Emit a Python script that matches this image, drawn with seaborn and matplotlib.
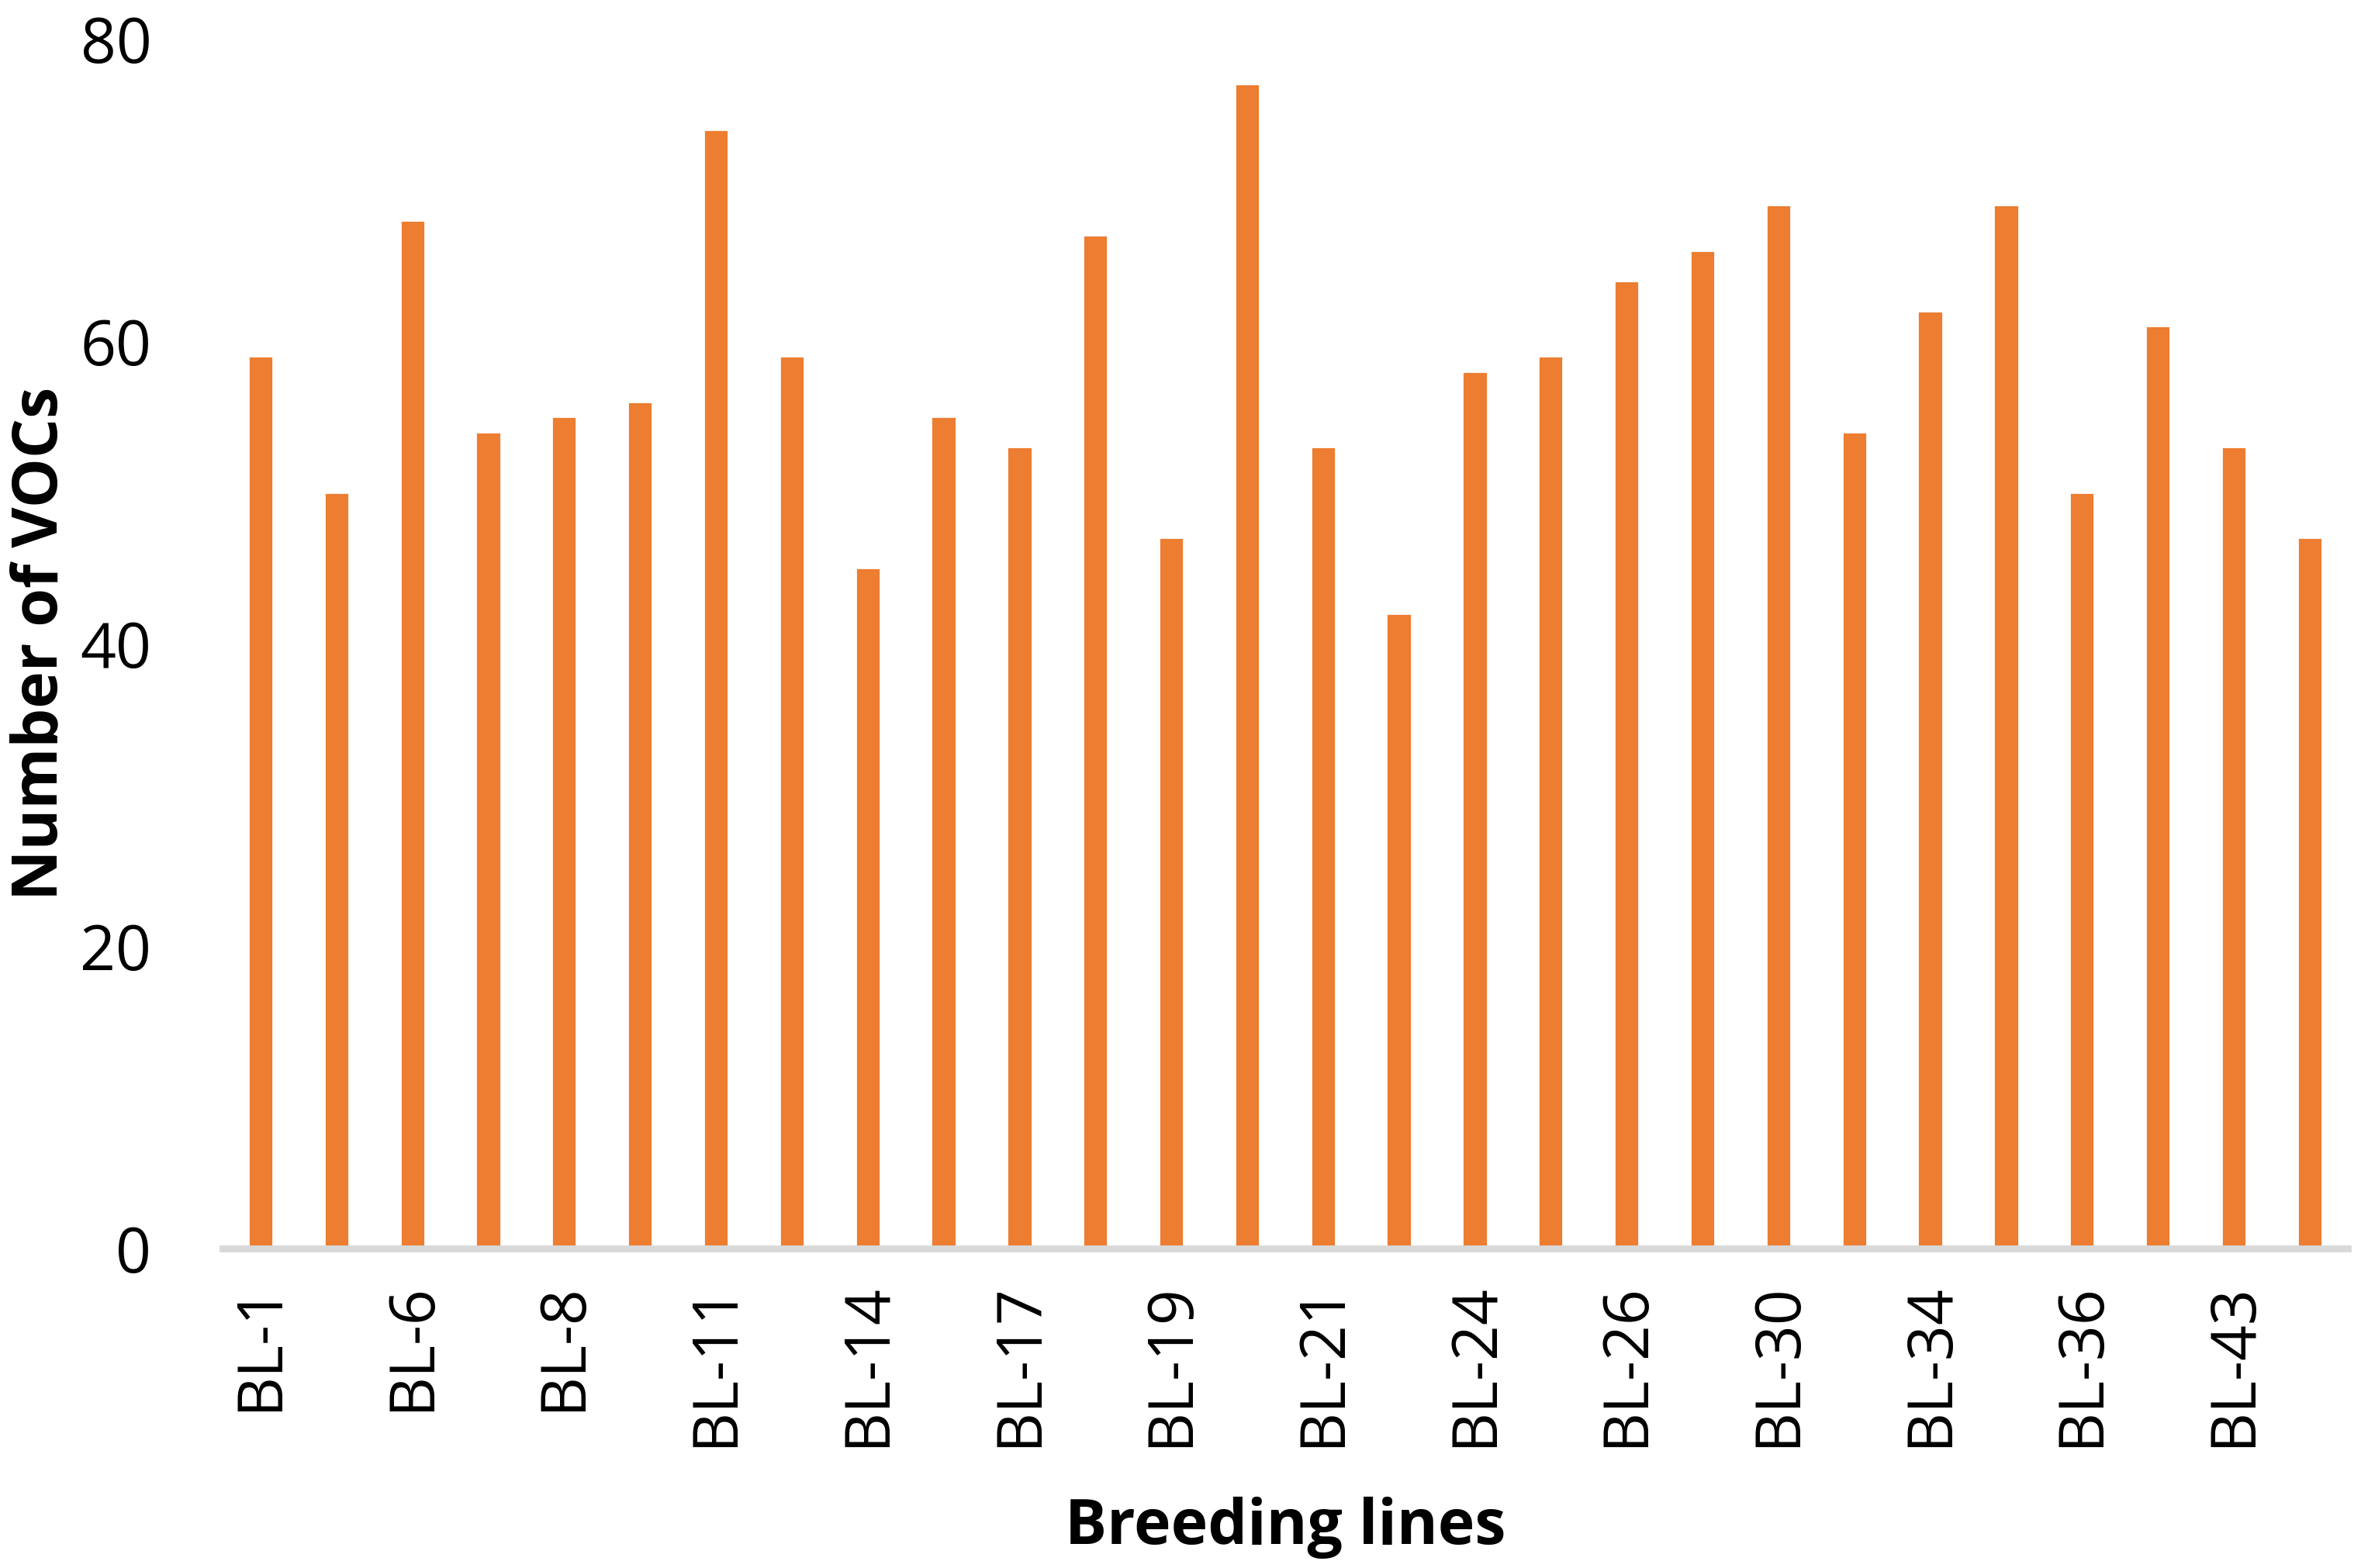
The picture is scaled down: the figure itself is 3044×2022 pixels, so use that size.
import pandas as pd
import matplotlib.pyplot as plt
import seaborn as sns

# ====== Data ======
# only every other breeding line label is printed on the axis
lines = ["BL-1", "BL-5", "BL-6", "BL-7", "BL-8", "BL-10", "BL-11", "BL-13",
         "BL-14", "BL-16", "BL-17", "BL-18", "BL-19", "BL-20", "BL-21", "BL-23",
         "BL-24", "BL-25", "BL-26", "BL-28", "BL-30", "BL-33", "BL-34", "BL-35",
         "BL-36", "BL-40", "BL-43", "BL-45"]
vocs = [59, 50, 68, 54, 55, 56, 74, 59, 45, 55, 53, 67, 47, 77, 53, 42,
        58, 59, 64, 66, 69, 54, 62, 69, 50, 61, 53, 47]
y_ticks = [0, 20, 40, 60, 80]

df = pd.DataFrame({"line": lines, "vocs": vocs})

# ====== Style ======
sns.set_style("white")
plt.rcParams["font.family"] = ["Open Sans", "DejaVu Sans"]
plt.rcParams["text.color"] = "black"
plt.rcParams["axes.labelcolor"] = "black"
plt.rcParams["xtick.color"] = "black"
plt.rcParams["ytick.color"] = "black"

fig = plt.figure(figsize=(15.22, 10.11), dpi=200)
ax = fig.add_axes([0.0943, 0.2038, 0.9000, 0.7715])

sns.barplot(data=df, x="line", y="vocs", color="#ED7D31", saturation=1,
            width=0.33, ax=ax)

ax.set_ylim(0, 80)
ax.set_xlim(-0.5, len(lines) - 0.5)
ax.set_yticks(y_ticks)
ax.set_yticklabels([str(t) for t in y_ticks], fontsize=29)
ax.set_xticks(range(0, len(lines), 2))
ax.set_xticklabels(lines[::2], rotation=90, fontsize=29)
ax.tick_params(axis="x", length=0, pad=16)
ax.tick_params(axis="y", length=0, pad=33)

for side in ["left", "right", "top"]:
    ax.spines[side].set_visible(False)
ax.spines["bottom"].set_color("#D9D9D9")
ax.spines["bottom"].set_linewidth(3.2)
ax.spines["bottom"].set_zorder(5)

ax.set_xlabel("Breeding lines", fontsize=29, fontweight="bold")
ax.set_ylabel("Number of VOCs", fontsize=29, fontweight="bold")
ax.xaxis.set_label_coords(0.5, -0.205)
ax.yaxis.set_label_coords(-0.071, 0.5)

fig.savefig("out.png", dpi=200)
